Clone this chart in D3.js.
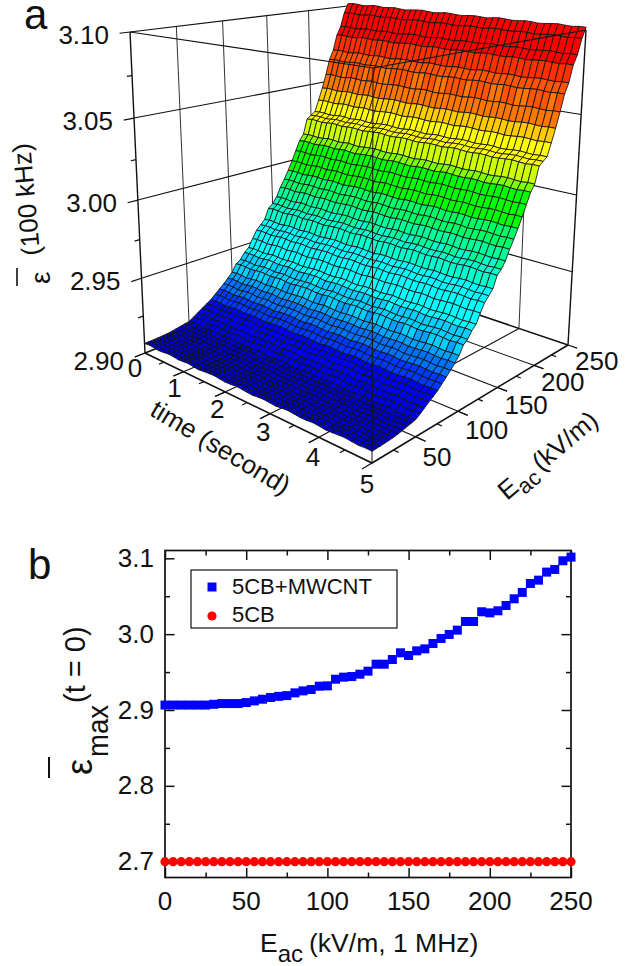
<!DOCTYPE html>
<html>
<head>
<meta charset="utf-8">
<script src="https://d3js.org/d3.v7.min.js"></script>
<style>
  html, body { margin: 0; padding: 0; background: #fff; }
  text { font-family: "Liberation Sans", Arial, sans-serif; fill: #111; }
</style>
</head>
<body>
<div id="chart"></div>
<script>
// Field steps shared by both panels (kV/m)
const fieldValues = [0, 5, 10, 15, 20, 25, 30, 35, 40, 45, 50, 55, 60, 65, 70, 75, 80, 85, 90, 95, 100,
    105, 110, 115, 120, 125, 130, 135, 140, 145, 150, 155, 160, 165, 170, 175, 180, 185, 190, 195, 200,
    205, 210, 215, 220, 225, 230, 235, 240, 245, 250];

// Panel b
const epsMwcnt = [2.9065, 2.9065, 2.9065, 2.9065, 2.9065, 2.9065, 2.9075, 2.9085, 2.9085, 2.9085, 2.9098,
    2.912, 2.9142, 2.9165, 2.918, 2.919, 2.9226, 2.9252, 2.927, 2.9314, 2.9318,
    2.9406, 2.9433, 2.9441, 2.9472, 2.9512, 2.9604, 2.9604, 2.9666, 2.9754, 2.9719,
    2.978, 2.9806, 2.9877, 2.9943, 2.9996, 3.0053, 3.0167, 3.0167, 3.0295, 3.0281,
    3.0308, 3.0378, 3.0466, 3.055, 3.0668, 3.0712, 3.0818, 3.0853, 3.0967, 3.1016];
const eps5cb = [2.7, 2.7, 2.7, 2.7, 2.7, 2.7, 2.7, 2.7, 2.7, 2.7, 2.7, 2.7, 2.7, 2.7, 2.7, 2.7, 2.7,
    2.7, 2.7, 2.7, 2.7, 2.7, 2.7, 2.7, 2.7, 2.7, 2.7, 2.7, 2.7, 2.7, 2.7, 2.7, 2.7, 2.7,
    2.7, 2.7, 2.7, 2.7, 2.7, 2.7, 2.7, 2.7, 2.7, 2.7, 2.7, 2.7, 2.7, 2.7, 2.7, 2.7, 2.7];

// Panel a, surface height per field step, read along its edges
const epsSurface = [2.9065, 2.9066, 2.9067, 2.9068, 2.907, 2.9072, 2.9076, 2.9082, 2.9088, 2.9094, 2.91,
    2.9118, 2.9138, 2.9158, 2.9176, 2.9196, 2.9222, 2.9248, 2.9274, 2.9304, 2.9335,
    2.9385, 2.9405, 2.9445, 2.947, 2.9525, 2.9575, 2.9605, 2.9635, 2.9705, 2.973,
    2.977, 2.983, 2.988, 2.9935, 2.9995, 3.006, 3.0125, 3.0165, 3.0265, 3.0285,
    3.0305, 3.038, 3.046, 3.055, 3.065, 3.071, 3.081, 3.0865, 3.0955, 3.1016];

// Panel a, time grid and the small change of the surface along it
const timeValues = [0, 0.125, 0.25, 0.375, 0.5, 0.625, 0.75, 0.875, 1, 1.125, 1.25, 1.375, 1.5, 1.625,
    1.75, 1.875, 2, 2.125, 2.25, 2.375, 2.5, 2.625, 2.75, 2.875, 3, 3.125, 3.25, 3.375, 3.5, 3.625,
    3.75, 3.875, 4, 4.125, 4.25, 4.375, 4.5, 4.625, 4.75, 4.875, 5];
const timeDrift = [0, 0.0004, 0.0002, -0.0003, 0, 0.0005, 0.0003, -0.0002, 0.0001, 0.0004, -0.0001, -0.0004,
    0, 0.0003, 0.0005, 0.0001, -0.0003, -0.0001, 0.0004, 0.0002, -0.0002, -0.0004, 0.0001, 0.0003, 0,
    -0.0003, 0.0002, 0.0005, 0.0002, -0.0002, -0.0001, 0.0003, 0.0001, -0.0004, -0.0002, 0.0002, 0.0004,
    0, -0.0003, 0.0001, 0];

// Colour levels of the surface
const bandLimits = [2.91, 2.914, 2.92, 2.925, 2.93, 2.936, 2.943, 2.965, 2.975, 2.985, 2.993, 3.01, 3.017,
    3.024, 3.036, 3.043, 3.05, 3.06, 3.07, 3.08];
const bandColors = ['#0000c8', '#0000e6', '#0000ff', '#0038ff', '#0070ff', '#00a0ff', '#00d0ff', '#00ffff',
    '#00ffcc', '#00ff99', '#00ff66', '#00ff00', '#80ff00', '#ccff00', '#ffff00', '#ffcc00', '#ff9900',
    '#ff7700', '#ff5500', '#ff3000', '#ff0000'];

const zTicks = [2.90, 2.95, 3.00, 3.05, 3.10];
const zMinorTicks = [2.925, 2.975, 3.025, 3.075];
const timeTicks = [0, 1, 2, 3, 4, 5];
const timeMinorTicks = [0.5, 1.5, 2.5, 3.5, 4.5];
const fieldTicks = [50, 100, 150, 200, 250];
const fieldMinorTicks = [25, 75, 125, 175, 225];

const xTicksB = [0, 50, 100, 150, 200, 250];
const xMinorB = [25, 75, 125, 175, 225];
const yTicksB = [2.7, 2.8, 2.9, 3.0, 3.1];
const yMinorB = [2.75, 2.85, 2.95, 3.05];

const svg = d3.select('#chart').append('svg')
    .attr('width', 636)
    .attr('height', 966)
    .style('display', 'block');

// ---------- Panel a ----------

// Box corners on the page: (t=0,E=0), (t=5,E=0), (t=5,E=250), (t=0,E=250)
const floorQuad = [[145, 353], [372, 463], [568, 345], [352, 272]];
const roofQuad = [[130, 32], [373, 68], [586, 30], [348, 6]];

function squareToQuad(q) {
    const dx1 = q[1][0] - q[2][0], dx2 = q[3][0] - q[2][0], sx = q[0][0] - q[1][0] + q[2][0] - q[3][0];
    const dy1 = q[1][1] - q[2][1], dy2 = q[3][1] - q[2][1], sy = q[0][1] - q[1][1] + q[2][1] - q[3][1];
    const den = dx1 * dy2 - dx2 * dy1;
    const g = (sx * dy2 - dx2 * sy) / den;
    const h = (dx1 * sy - sx * dy1) / den;
    return (u, v) => {
        const w = 1 + g * u + h * v;
        return [
            (q[0][0] + u * (q[1][0] - q[0][0] + g * q[1][0]) + v * (q[3][0] - q[0][0] + h * q[3][0])) / w,
            (q[0][1] + u * (q[1][1] - q[0][1] + g * q[1][1]) + v * (q[3][1] - q[0][1] + h * q[3][1])) / w
        ];
    };
}

const floorMap = squareToQuad(floorQuad);
const roofMap = squareToQuad(roofQuad);
const tScale = d3.scaleLinear().domain([0, 5]).range([0, 1]);
// slight power: the quads alone pull the field ticks too far along the axis
const eScale = e => e < 0 ? e / 250 : Math.pow(e / 250, 1.05);
const zScale = d3.scaleLinear().domain([2.9, 3.1]).range([0, 1]);
const zBend = -0.09; // ticks on the z axis get closer towards the floor

function project(t, e, z) {
    const n = zScale(z);
    const s = n * (1 + zBend) / (1 + zBend * n);
    const a = floorMap(tScale(t), eScale(e));
    const b = roofMap(tScale(t), eScale(e));
    return [a[0] + (b[0] - a[0]) * s, a[1] + (b[1] - a[1]) * s];
}

const pathOf = d3.line();
const panelA = svg.append('g');

function seg(parent, pts, width, color) {
    parent.append('path')
        .attr('d', pathOf(pts))
        .attr('fill', 'none')
        .attr('stroke', color || '#111')
        .attr('stroke-width', width);
}

// Walls and floor, behind the surface
const back = panelA.append('g');
fieldTicks.slice(0, 4).forEach(e => {
    seg(back, [project(0, e, 2.9), project(0, e, 3.1)], 1, '#333');
    seg(back, [project(0, e, 2.9), project(5.18, e, 2.9)], 1.1);
});
timeTicks.slice(1, 5).forEach(t => {
    seg(back, [project(t, 250, 2.9), project(t, 250, 3.1)], 1, '#333');
    seg(back, [project(t, -10, 2.9), project(t, 250, 2.9)], 1.1);
});
zTicks.slice(1, 4).forEach(z => {
    seg(back, [project(0, 0, z), project(0, 250, z), project(5, 250, z)], 1.1);
});
seg(back, [project(0, 0, 3.1), project(0, 250, 3.1), project(5, 250, 3.1)], 1.2);
seg(back, [project(0, 250, 2.9), project(0, 250, 3.1)], 1.1);
seg(back, [project(0, 0, 2.9), project(0, 250, 2.9), project(5, 250, 2.9)], 1.6);
seg(back, [project(5, 250, 2.9), project(5, 250, 3.1)], 1.4);

// Surface cells, far rows first so the near ones paint over them
const surfaceAt = (ti, ei) => epsSurface[ei] + timeDrift[ti];
const bandScale = d3.scaleThreshold().domain(bandLimits).range(bandColors);
const cells = [];
for (let ei = fieldValues.length - 2; ei >= 0; ei--) {
    for (let ti = 0; ti < timeValues.length - 1; ti++) {
        cells.push({ ti, ei });
    }
}
panelA.append('g').selectAll('path')
    .data(cells)
    .join('path')
    .attr('d', d => pathOf([
        project(timeValues[d.ti], fieldValues[d.ei], surfaceAt(d.ti, d.ei)),
        project(timeValues[d.ti + 1], fieldValues[d.ei], surfaceAt(d.ti + 1, d.ei)),
        project(timeValues[d.ti + 1], fieldValues[d.ei + 1], surfaceAt(d.ti + 1, d.ei + 1)),
        project(timeValues[d.ti], fieldValues[d.ei + 1], surfaceAt(d.ti, d.ei + 1))
    ]) + 'Z')
    .attr('fill', d => bandScale((surfaceAt(d.ti, d.ei) + surfaceAt(d.ti, d.ei + 1)) / 2))
    .attr('stroke', '#111')
    .attr('stroke-width', 0.85)
    .attr('stroke-linejoin', 'round');

// Box edges that pass in front of the surface
const front = panelA.append('g');
seg(front, [project(0, 0, 3.1), project(5, 0, 3.1), project(5, 250, 3.1)], 1.1);
seg(front, [project(5, 0, 2.9), project(5, 0, 3.1)], 1);
seg(front, [project(0, 0, 2.9), project(5, 0, 2.9), project(5, 250, 2.9)], 1.6);
seg(front, [project(0, 0, 2.9), project(0, 0, 3.1)], 1.4);

// Axis ticks
zTicks.forEach(z => seg(front, [project(0, -10, z), project(0, 0, z)], 1.2));
zMinorTicks.forEach(z => seg(front, [project(0, -5, z), project(0, 0, z)], 1.2));
timeTicks.forEach(t => seg(front, [project(t, -10, 2.9), project(t, 0, 2.9)], 1.2));
timeMinorTicks.forEach(t => seg(front, [project(t, -5, 2.9), project(t, 0, 2.9)], 1.2));
fieldTicks.forEach(e => seg(front, [project(5, e, 2.9), project(5.18, e, 2.9)], 1.2));
fieldMinorTicks.forEach(e => seg(front, [project(5, e, 2.9), project(5.09, e, 2.9)], 1.2));

const tickFont = '26px';

panelA.append('g').selectAll('text')
    .data(zTicks)
    .join('text')
    .attr('x', d => project(0, 0, d)[0] - 21)
    .attr('y', d => project(0, 0, d)[1] + (d === 2.9 ? 17 : 12))
    .attr('text-anchor', 'end')
    .attr('font-size', tickFont)
    .text(d => d.toFixed(2));

panelA.append('g').selectAll('text')
    .data(timeTicks)
    .join('text')
    .attr('x', d => project(d, 0, 2.9)[0] - 10 + d)
    .attr('y', d => project(d, 0, 2.9)[1] + 24 + d * 1.2)
    .attr('text-anchor', 'middle')
    .attr('font-size', tickFont)
    .text(d => d);

panelA.append('g').selectAll('text')
    .data(fieldTicks)
    .join('text')
    .attr('x', d => project(5, d, 2.9)[0] + 7)
    .attr('y', d => project(5, d, 2.9)[1] + 30 - d * 0.02)
    .attr('font-size', tickFont)
    .text(d => d);

panelA.append('text')
    .attr('x', 24)
    .attr('y', 29)
    .attr('font-size', '42px')
    .text('a');

panelA.append('text')
    .attr('transform', 'translate(216,455) rotate(31)')
    .attr('text-anchor', 'middle')
    .attr('font-size', tickFont)
    .text('time (second)');

const fieldTitle = panelA.append('text')
    .attr('transform', 'translate(507,501) rotate(-40)')
    .attr('font-size', tickFont);
fieldTitle.append('tspan').text('E');
fieldTitle.append('tspan').attr('font-size', '22px').attr('dy', 7).text('ac');
fieldTitle.append('tspan').attr('dy', -7).attr('dx', 4).text('(kV/m)');

panelA.append('text')
    .attr('transform', 'translate(40,255) rotate(-95)')
    .attr('font-size', tickFont)
    .text('(100 kHz)');
panelA.append('text')
    .attr('transform', 'translate(50,284) rotate(-90)')
    .attr('font-size', '28px')
    .text('ε');
panelA.append('line')
    .attr('x1', 17).attr('x2', 17)
    .attr('y1', 268).attr('y2', 286)
    .attr('stroke', '#111')
    .attr('stroke-width', 1.6);

// ---------- Panel b ----------

const plotB = { left: 165, right: 571, top: 550.5, bottom: 877.5 };
const x = d3.scaleLinear().domain([0, 250]).range([plotB.left, plotB.right]);
const y = d3.scaleLinear().domain([2.7, 3.1]).range([861.7, 558.3]);

const panelB = svg.append('g');

function tickSet(values, axisGen, pos, len) {
    const g = panelB.append('g').attr('transform', pos);
    g.call(axisGen.tickValues(values).tickSize(len).tickFormat(''));
    g.select('.domain').remove();
    g.selectAll('line').attr('stroke', '#111').attr('stroke-width', 1.5);
    g.selectAll('text').remove();
}

// inside ticks on all four sides
tickSet(xTicksB, d3.axisTop(x), `translate(0,${plotB.bottom})`, 9.5);
tickSet(xMinorB, d3.axisTop(x), `translate(0,${plotB.bottom})`, 5);
tickSet(xTicksB, d3.axisBottom(x), `translate(0,${plotB.top})`, 9.5);
tickSet(xMinorB, d3.axisBottom(x), `translate(0,${plotB.top})`, 5);
tickSet(yTicksB, d3.axisRight(y), `translate(${plotB.left},0)`, 9.5);
tickSet(yMinorB, d3.axisRight(y), `translate(${plotB.left},0)`, 5);
tickSet(yTicksB, d3.axisLeft(y), `translate(${plotB.right},0)`, 9.5);
tickSet(yMinorB, d3.axisLeft(y), `translate(${plotB.right},0)`, 5);

panelB.append('rect')
    .attr('x', plotB.left)
    .attr('y', plotB.top)
    .attr('width', plotB.right - plotB.left)
    .attr('height', plotB.bottom - plotB.top)
    .attr('fill', 'none')
    .attr('stroke', '#111')
    .attr('stroke-width', 1.7);

panelB.append('g').selectAll('rect')
    .data(fieldValues)
    .join('rect')
    .attr('x', (d, i) => x(d) - 4.5)
    .attr('y', (d, i) => y(epsMwcnt[i]) - 4.5)
    .attr('width', 9)
    .attr('height', 9)
    .attr('fill', '#0000ff');

panelB.append('g').selectAll('circle')
    .data(fieldValues)
    .join('circle')
    .attr('cx', d => x(d))
    .attr('cy', (d, i) => y(eps5cb[i]))
    .attr('r', 4.6)
    .attr('fill', '#ff0000');

panelB.append('g').selectAll('text')
    .data(xTicksB)
    .join('text')
    .attr('x', d => x(d))
    .attr('y', 910)
    .attr('text-anchor', 'middle')
    .attr('font-size', tickFont)
    .text(d => d);

panelB.append('g').selectAll('text')
    .data(yTicksB)
    .join('text')
    .attr('x', 154)
    .attr('y', d => y(d) + 8.5)
    .attr('text-anchor', 'end')
    .attr('font-size', tickFont)
    .text(d => d.toFixed(1));

// Legend
panelB.append('rect')
    .attr('x', 191).attr('y', 570)
    .attr('width', 206).attr('height', 58)
    .attr('fill', 'none')
    .attr('stroke', '#111')
    .attr('stroke-width', 1.2);
panelB.append('rect')
    .attr('x', 207.5).attr('y', 582.5)
    .attr('width', 9).attr('height', 9)
    .attr('fill', '#0000ff');
panelB.append('circle')
    .attr('cx', 212).attr('cy', 616)
    .attr('r', 4.6)
    .attr('fill', '#ff0000');
panelB.append('text')
    .attr('x', 232).attr('y', 594)
    .attr('font-size', '22px')
    .text('5CB+MWCNT');
panelB.append('text')
    .attr('x', 232).attr('y', 622)
    .attr('font-size', '22px')
    .text('5CB');

panelB.append('text')
    .attr('x', 28)
    .attr('y', 579)
    .attr('font-size', '42px')
    .text('b');

const xTitle = panelB.append('text')
    .attr('x', 260)
    .attr('y', 952)
    .attr('font-size', '26.5px');
xTitle.append('tspan').text('E');
xTitle.append('tspan').attr('font-size', '24px').attr('dy', 10).text('ac');
xTitle.append('tspan').attr('dy', -10).attr('dx', 6).text('(kV/m, 1 MHz)');

panelB.append('text')
    .attr('transform', 'translate(92,775) rotate(-90)')
    .attr('font-size', '36px')
    .text('ε');
panelB.append('text')
    .attr('transform', 'translate(108,757) rotate(-90)')
    .attr('font-size', '30px')
    .attr('textLength', 52)
    .attr('lengthAdjust', 'spacingAndGlyphs')
    .text('max');
panelB.append('text')
    .attr('transform', 'translate(85,703) rotate(-90)')
    .attr('font-size', '29px')
    .text('(t = 0)');
panelB.append('line')
    .attr('x1', 49).attr('x2', 49)
    .attr('y1', 757).attr('y2', 778)
    .attr('stroke', '#111')
    .attr('stroke-width', 2);
</script>
</body>
</html>
